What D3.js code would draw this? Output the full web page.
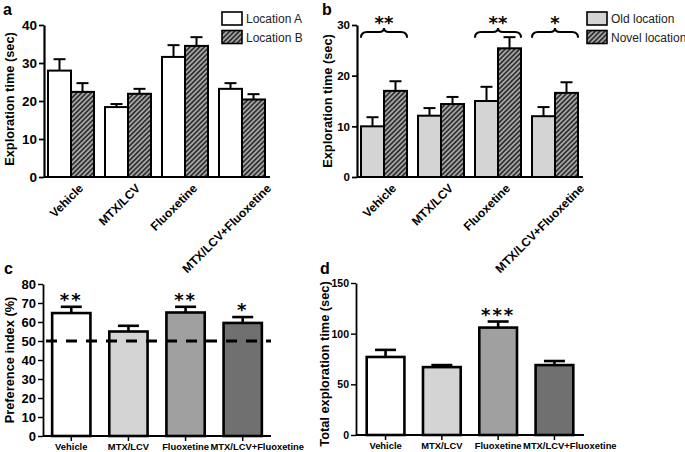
<!DOCTYPE html>
<html><head><meta charset="utf-8">
<script src="https://cdn.jsdelivr.net/npm/d3@7/dist/d3.min.js"></script>
<style>
body{margin:0;background:#fff;}
svg{display:block;font-family:"Liberation Sans",Arial,Helvetica,sans-serif;}
</style></head>
<body>
<svg id="chart" width="685" height="452"></svg>
<script>
// ---------- data ----------
const groups = ["Vehicle", "MTX/LCV", "Fluoxetine", "MTX/LCV+Fluoxetine"];
// panel a
const locA = [28.0, 18.4, 31.6, 23.2];
const locAErr = [3.0, 0.8, 3.1, 1.5];
const locB = [22.4, 21.9, 34.5, 20.4];
const locBErr = [2.3, 1.3, 2.3, 1.4];
const ticksA = [0, 10, 20, 30, 40];
// panel b
const oldLoc = [10.0, 12.1, 15.0, 12.0];
const oldErr = [1.8, 1.5, 2.8, 1.8];
const novelLoc = [17.0, 14.4, 25.4, 16.6];
const novelErr = [1.9, 1.4, 2.2, 2.1];
const sigB = ["**", "", "**", "*"];
const ticksB = [0, 10, 20, 30];
// panel c
const prefIndex = [64.7, 55.0, 65.0, 59.5];
const prefErr = [3.3, 3.0, 3.0, 3.1];
const sigC = ["**", "", "**", "*"];
const chanceLevel = 50;
const ticksC = [0, 10, 20, 30, 40, 50, 60, 70, 80];
// panel d
const totalTime = [77, 67, 106, 69];
const totalErr = [7, 2, 6, 4];
const sigD = ["", "", "***", ""];
const ticksD = [0, 50, 100, 150];

const svg = d3.select("#chart");
const defs = svg.append("defs");
const pat = defs.append("pattern").attr("id", "hatch")
  .attr("patternUnits", "userSpaceOnUse").attr("width", 3.4).attr("height", 3.4)
  .attr("patternTransform", "rotate(45)");
pat.append("rect").attr("width", 3.4).attr("height", 3.4).attr("fill", "#b0b0b0");
pat.append("line").attr("x1", 1).attr("x2", 1).attr("y1", 0).attr("y2", 3.4)
  .attr("stroke", "#262626").attr("stroke-width", 1.7);

const fillsCD = ["#ffffff", "#d4d4d4", "#a0a0a0", "#707070"];

function yAxis(g, y, ticks, x0, sw, fs) {
  const ax = d3.axisLeft(y).tickValues(ticks).tickSize(5).tickSizeOuter(0).tickPadding(2);
  const a = g.append("g").attr("transform", `translate(${x0},0)`).call(ax);
  a.select(".domain").attr("stroke", "#000").attr("stroke-width", sw);
  a.selectAll(".tick line").attr("stroke", "#000").attr("stroke-width", sw * 0.8);
  a.selectAll(".tick text").attr("font-size", fs).attr("font-weight", "bold")
    .attr("fill", "#000").attr("font-family", "Liberation Sans, Arial, sans-serif");
}

function title(x, y, txt, size) {
  svg.append("text").attr("transform", `translate(${x},${y}) rotate(-90)`)
    .attr("text-anchor", "middle").attr("dominant-baseline", "central")
    .attr("font-size", size).attr("font-weight", "bold").text(txt);
}
function panelLabel(x, y, t) {
  svg.append("text").attr("x", x).attr("y", y).attr("font-size", 16)
    .attr("font-weight", "bold").text(t);
}
function stars(x, yc, t, ls) {
  svg.append("text").attr("x", x).attr("y", yc + 10).attr("text-anchor", "middle")
    .attr("font-family", "DejaVu Sans").attr("font-weight", "bold").attr("font-size", 18)
    .attr("letter-spacing", ls).text(t);
}
function errBar(g, x, y0, y1, cap, sw) {
  g.append("line").attr("x1", x).attr("x2", x).attr("y1", y0).attr("y2", y1)
    .attr("stroke", "#000").attr("stroke-width", sw);
  g.append("line").attr("x1", x - cap / 2).attr("x2", x + cap / 2).attr("y1", y1).attr("y2", y1)
    .attr("stroke", "#000").attr("stroke-width", sw);
}

// ---------- grouped panels (a, b) ----------
function grouped(cfg) {
  const g = svg.append("g");
  const y = d3.scaleLinear().domain(cfg.domain).range([cfg.y0, cfg.yTop]);
  const x = d3.scaleBand().domain(groups).range([cfg.x0 - 1.5, cfg.x0 + 226.5])
    .paddingInner(0.193).paddingOuter(0.0965);
  const xs = d3.scaleBand().domain([0, 1]).range([0, x.bandwidth()]);
  const series = [
    {v: cfg.s1, e: cfg.e1, fill: cfg.fill1},
    {v: cfg.s2, e: cfg.e2, fill: "url(#hatch)"}
  ];
  series.forEach((s, si) => {
    groups.forEach((grp, i) => {
      const cx = x(grp) + xs(si) + xs.bandwidth() / 2;
      errBar(g, cx, y(s.v[i]), y(s.v[i] + s.e[i]), 12, 2);
    });
  });
  series.forEach((s, si) => {
    g.selectAll(null).data(groups).enter().append("rect")
      .attr("x", d => x(d) + xs(si))
      .attr("y", (d, i) => y(s.v[i]))
      .attr("width", xs.bandwidth())
      .attr("height", (d, i) => y(0) - y(s.v[i]))
      .attr("fill", s.fill).attr("stroke", "#000").attr("stroke-width", 2);
  });
  g.append("line").attr("x1", cfg.x0).attr("x2", cfg.x0 + 226).attr("y1", y(0)).attr("y2", y(0))
    .attr("stroke", "#000").attr("stroke-width", 2);
  yAxis(g, y, cfg.ticks, cfg.x0, 2.2, cfg.tfs);
  groups.forEach((grp, i) => {
    const cx = x(grp) + x.bandwidth() / 2 + (i === groups.length - 1 ? 30 : 13);
    g.append("text").attr("transform", `translate(${cx},${cfg.y0 + 12}) rotate(-45)`)
      .attr("text-anchor", "end").attr("font-size", 12).attr("font-weight", "bold").text(grp);
  });
  cfg.legend.forEach((lab, i) => {
    const ly = 12 + i * 18.5;
    g.append("rect").attr("x", cfg.lx).attr("y", ly).attr("width", 20).attr("height", 13)
      .attr("fill", i === 0 ? cfg.fill1 : "url(#hatch)").attr("stroke", "#000").attr("stroke-width", 1.6);
    g.append("text").attr("x", cfg.lx + 24).attr("y", ly + 11).attr("font-size", 12)
      .attr("fill", "#222").text(lab);
  });
  return {x, y};
}

grouped({domain: [0, 40], y0: 177, yTop: 25, x0: 44, ticks: ticksA, tfs: 13.5,
  s1: locA, e1: locAErr, s2: locB, e2: locBErr, fill1: "#ffffff",
  legend: ["Location A", "Location B"], lx: 222});
title(9, 99, "Exploration time (sec)", 12.8);
panelLabel(3, 15, "a");

const pb = grouped({domain: [0, 30], y0: 177, yTop: 25, x0: 357, ticks: ticksB, tfs: 11.5,
  s1: oldLoc, e1: oldErr, s2: novelLoc, e2: novelErr, fill1: "#d4d4d4",
  legend: ["Old location", "Novel location"], lx: 587});
title(327, 101, "Exploration time (sec)", 12.8);
panelLabel(322, 15, "b");
groups.forEach((grp, i) => {
  if (!sigB[i]) return;
  const x1 = pb.x(grp), x2 = pb.x(grp) + pb.x.bandwidth(), m = (x1 + x2) / 2;
  const yE = pb.y(27.5), yM = pb.y(28.6), yP = pb.y(29.4);
  svg.append("path").attr("fill", "none").attr("stroke", "#000").attr("stroke-width", 2)
    .attr("d", `M${x1},${yE} Q${x1},${yM} ${x1 + 6},${yM} L${m - 5},${yM} Q${m},${yM} ${m},${yP}` +
      ` Q${m},${yM} ${m + 5},${yM} L${x2 - 6},${yM} Q${x2},${yM} ${x2},${yE}`);
  stars(m, yP - 9, sigB[i], 0);
});

// ---------- single panels (c, d) ----------
function single(cfg) {
  const g = svg.append("g");
  const y = d3.scaleLinear().domain(cfg.domain).range([cfg.y0, cfg.yTop]);
  const x = d3.scaleBand().domain(groups).range([cfg.x0, cfg.x0 + 228])
    .paddingInner(0.33).paddingOuter(cfg.po);
  groups.forEach((grp, i) => {
    const cx = x(grp) + x.bandwidth() / 2;
    errBar(g, cx, y(cfg.vals[i]), y(cfg.vals[i] + cfg.errs[i]), 21, 2.6);
  });
  g.selectAll(null).data(groups).enter().append("rect")
    .attr("x", d => x(d)).attr("y", (d, i) => y(cfg.vals[i]))
    .attr("width", x.bandwidth()).attr("height", (d, i) => y(0) - y(cfg.vals[i]))
    .attr("fill", (d, i) => fillsCD[i]).attr("stroke", "#000").attr("stroke-width", 2.6);
  g.append("line").attr("x1", cfg.x0).attr("x2", cfg.x0 + 228).attr("y1", y(0)).attr("y2", y(0))
    .attr("stroke", "#000").attr("stroke-width", 1.8);
  let prevEnd = -Infinity;
  groups.forEach((grp, i) => {
    const cx = x(grp) + x.bandwidth() / 2;
    g.append("line").attr("x1", cx).attr("x2", cx).attr("y1", y(0)).attr("y2", y(0) + 5)
      .attr("stroke", "#000").attr("stroke-width", 1.5);
    const t = g.append("text").attr("y", cfg.y0 + 14).attr("font-size", 9.4)
      .attr("font-weight", "bold").attr("text-anchor", "start").text(grp);
    const w = t.node().getComputedTextLength();
    let sx = Math.max(cx - w / 2, prevEnd + 1.5);
    t.attr("x", sx);
    prevEnd = sx + w;
  });
  yAxis(g, y, cfg.ticks, cfg.x0, 1.8, cfg.tfs);
  groups.forEach((grp, i) => {
    if (!cfg.sig[i]) return;
    const cx = x(grp) + x.bandwidth() / 2;
    stars(cx, y(cfg.vals[i] + cfg.errs[i]) - 11, cfg.sig[i], 2);
  });
  return {x, y, g};
}

const pc = single({domain: [0, 80], y0: 436, yTop: 284, x0: 43, po: 0.16, ticks: ticksC, tfs: 13,
  vals: prefIndex, errs: prefErr, sig: sigC});
pc.g.append("line").attr("x1", 43).attr("x2", 271).attr("y1", pc.y(chanceLevel)).attr("y2", pc.y(chanceLevel))
  .attr("stroke", "#000").attr("stroke-width", 3).attr("stroke-dasharray", "11,9").attr("stroke-dashoffset", -3);
title(9, 360, "Preference index (%)", 12.8);
panelLabel(4, 274, "c");

single({domain: [0, 150], y0: 435, yTop: 283, x0: 356, po: 0.19, ticks: ticksD, tfs: 10.5,
  vals: totalTime, errs: totalErr, sig: sigD});
title(324.5, 364, "Total exploration time (sec)", 12.8);
panelLabel(320, 274, "d");
</script>
</body></html>
